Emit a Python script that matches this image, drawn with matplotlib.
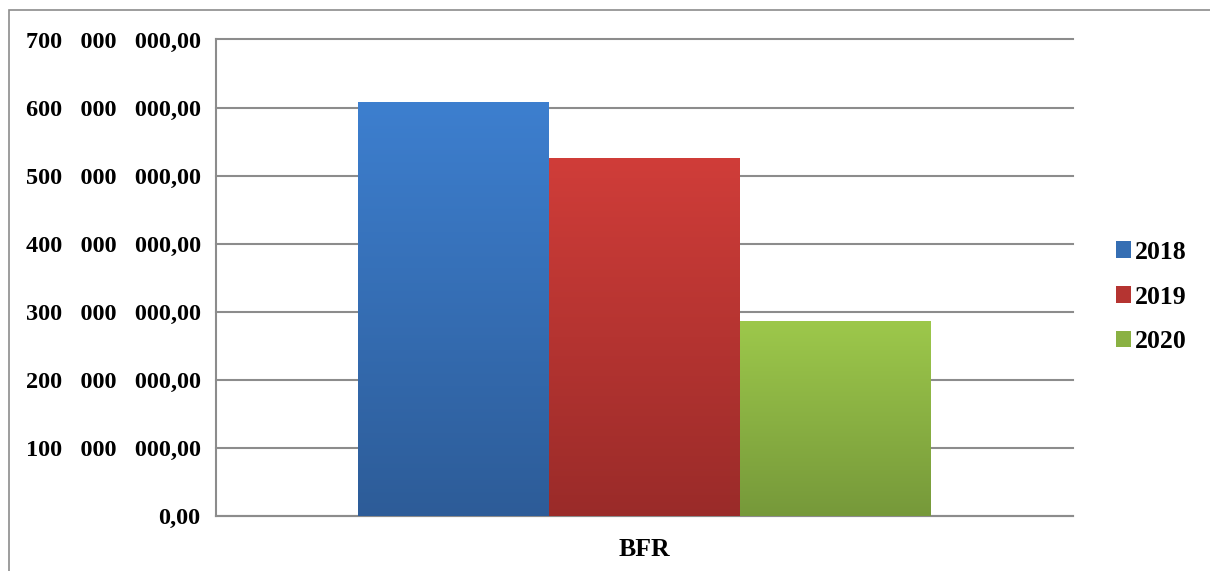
import matplotlib
matplotlib.use("Agg")
import matplotlib.pyplot as plt
import numpy as np
from matplotlib.patches import Rectangle, Patch
from matplotlib.colors import LinearSegmentedColormap

category = "BFR"
years = ["2018", "2019", "2020"]
values = [608_000_000, 526_000_000, 286_000_000]
top_colors = ["#3D7FCF", "#D03D39", "#9DC84B"]
bottom_colors = ["#2D5C98", "#9A2B29", "#76993A"]
y_ticks = [0, 100_000_000, 200_000_000, 300_000_000, 400_000_000,
           500_000_000, 600_000_000, 700_000_000]

FONT = ["Liberation Serif", "DejaVu Serif"]
plt.rcParams["font.family"] = FONT


def fmt(v):
    s = f"{v:,.2f}"
    intpart, dec = s.split(".")
    groups = intpart.split(",")
    return "   ".join(groups) + "," + dec


W, H, DPI = 1210, 571, 100
fig = plt.figure(figsize=(W / DPI, H / DPI), dpi=DPI)
fig.patch.set_facecolor("white")

# outer frame (chart area border)
fig.add_artist(Rectangle((9 / W, -0.1), 1.2, (H - 10) / H + 0.1,
                         transform=fig.transFigure, fill=False,
                         edgecolor="#8C8C8C", linewidth=1.2))

left, right, top, bottom = 216, 1073, 39.5, 516
ax = fig.add_axes([left / W, 1 - bottom / H, (right - left) / W, (bottom - top) / H])

n = len(years)
bw = (931 - 358) / (right - left) / n
offsets = [(i - (n - 1) / 2) * bw for i in range(n)]

for i, (yr, v) in enumerate(zip(years, values)):
    b = ax.bar(offsets[i], v, width=bw, color=top_colors[i], label=yr,
               zorder=3, linewidth=0)[0]
    cmap = LinearSegmentedColormap.from_list(f"g{i}", [bottom_colors[i], top_colors[i]])
    grad = np.linspace(0, 1, 256).reshape(-1, 1)
    x0 = offsets[i] - bw / 2
    im = ax.imshow(grad, cmap=cmap, aspect="auto", origin="lower",
                   extent=[x0, x0 + bw, 0, v], zorder=4, interpolation="bilinear")
    im.set_clip_path(b)
ax.set_xlim(-0.5, 0.5)
ax.set_ylim(0, 700_000_000)

ax.set_yticks(y_ticks)
ax.set_yticklabels([fmt(t) for t in y_ticks], fontsize=17.5, fontweight="bold")
ax.set_xticks([0])
ax.set_xticklabels([category], fontsize=18.5, fontweight="bold")
ax.tick_params(axis="y", length=0, pad=11)
ax.tick_params(axis="x", length=0, pad=16)

ax.yaxis.grid(True, color="#8C8C8C", linewidth=1.5, zorder=0)
for gl in ax.get_ygridlines():
    gl.set_clip_on(False)
ax.set_axisbelow(True)
for s in ["top", "right"]:
    ax.spines[s].set_visible(False)
for s in ["left", "bottom"]:
    ax.spines[s].set_color("#8C8C8C")
    ax.spines[s].set_linewidth(1.5)

handles = [Patch(facecolor=(np.array(matplotlib.colors.to_rgb(top_colors[i])) +
                            np.array(matplotlib.colors.to_rgb(bottom_colors[i]))) / 2)
           for i in range(n)]
leg = fig.legend(handles, years, loc="center left",
                 bbox_to_anchor=(1103 / W, 1 - 297 / H), frameon=False,
                 prop={"family": FONT, "weight": "bold", "size": 18.5},
                 handlelength=0.6, handleheight=0.6, handletextpad=0.15,
                 labelspacing=0.85, borderpad=0)

fig.savefig("out.png", dpi=DPI, facecolor="white")
